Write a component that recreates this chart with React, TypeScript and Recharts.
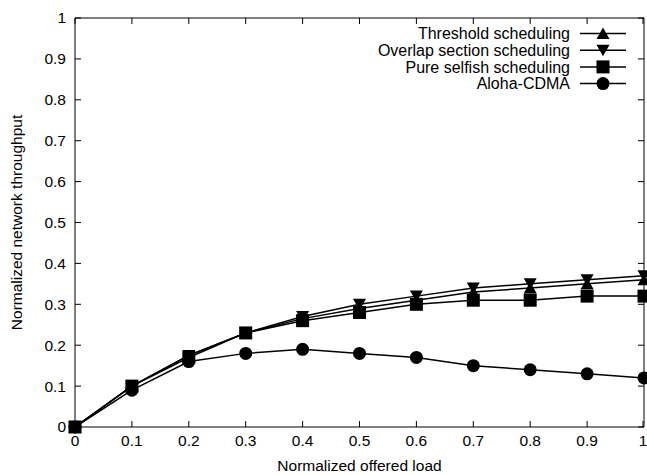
import React from 'react';
import { LineChart, Line, XAxis, YAxis } from 'recharts';

const loads = [0, 0.1, 0.2, 0.3, 0.4, 0.5, 0.6, 0.7, 0.8, 0.9, 1];
const threshold = [0, 0.1, 0.175, 0.23, 0.265, 0.29, 0.31, 0.33, 0.34, 0.35, 0.36];
const overlap = [0, 0.1, 0.175, 0.23, 0.27, 0.3, 0.32, 0.34, 0.35, 0.36, 0.37];
const selfish = [0, 0.1, 0.17, 0.23, 0.26, 0.28, 0.3, 0.31, 0.31, 0.32, 0.32];
const aloha = [0, 0.09, 0.16, 0.18, 0.19, 0.18, 0.17, 0.15, 0.14, 0.13, 0.12];
const ticks = [0, 0.1, 0.2, 0.3, 0.4, 0.5, 0.6, 0.7, 0.8, 0.9, 1];

const data = loads.map((x, i) => ({
  x,
  threshold: threshold[i],
  overlap: overlap[i],
  selfish: selfish[i],
  aloha: aloha[i],
}));

const FONT = '"Liberation Sans", Arial, sans-serif';
const FS = 15.5;
const TM = 7;
const TICK = 6;

type Shape = 'up' | 'down' | 'square' | 'circle';

function Marker({ cx, cy, shape }: { cx: number; cy: number; shape: Shape }) {
  if (cx == null || cy == null) return null;
  if (shape === 'circle') return <circle cx={cx} cy={cy} r={6.5} fill="#000" />;
  if (shape === 'square') return <rect x={cx - 6.5} y={cy - 6.5} width={13} height={13} fill="#000" />;
  if (shape === 'up')
    return <polygon points={`${cx - 6.5},${cy + 5.5} ${cx + 6.5},${cy + 5.5} ${cx},${cy - 6}`} fill="#000" />;
  return <polygon points={`${cx - 6.5},${cy - 5.5} ${cx + 6.5},${cy - 5.5} ${cx},${cy + 6}`} fill="#000" />;
}

const dot = (shape: Shape) => (p: any) => <Marker key={`${shape}-${p.index}`} cx={p.cx} cy={p.cy} shape={shape} />;

const fmt = (v: number) => `${Math.round(v * 10) / 10}`;

const BottomTick = ({ x, y, payload }: any) => (
  <g>
    <line x1={x} y1={y - TM} x2={x} y2={y - TM - TICK} stroke="#000" />
    <text x={x} y={y} dy="0.8em" textAnchor="middle" fontSize={FS} fontFamily={FONT} fill="#000">
      {fmt(payload.value)}
    </text>
  </g>
);

const TopTick = ({ x, y }: any) => (
  <line x1={x} y1={y + TM} x2={x} y2={y + TM + TICK} stroke="#000" />
);

const LeftTick = ({ x, y, payload }: any) => (
  <g>
    <line x1={x + TM} y1={y} x2={x + TM + TICK} y2={y} stroke="#000" />
    <text x={x - 2} y={y} dy="0.35em" textAnchor="end" fontSize={FS} fontFamily={FONT} fill="#000">
      {fmt(payload.value)}
    </text>
  </g>
);

const RightTick = ({ x, y }: any) => (
  <line x1={x - TM} y1={y} x2={x - TM - TICK} y2={y} stroke="#000" />
);

const legendItems: { name: string; shape: Shape }[] = [
  { name: 'Threshold scheduling', shape: 'up' },
  { name: 'Overlap section scheduling', shape: 'down' },
  { name: 'Pure selfish scheduling', shape: 'square' },
  { name: 'Aloha-CDMA', shape: 'circle' },
];

const LegendBox = () => (
  <svg width={647} height={475} style={{ position: 'absolute', left: 0, top: 0, pointerEvents: 'none' }}>
    {legendItems.map((it, i) => {
      const y = 33.5 + i * 16.7;
      return (
        <g key={it.name}>
          <text x={570} y={y} dy="0.36em" textAnchor="end" fontSize={16} fontFamily={FONT} fill="#000">
            {it.name}
          </text>
          <line x1={580} y1={y} x2={626} y2={y} stroke="#000" strokeWidth={1.5} />
          <Marker cx={603} cy={y} shape={it.shape} />
        </g>
      );
    })}
  </svg>
);

export default function App() {
  return (
    <div style={{ position: 'absolute', left: 0, top: 0, width: 647, height: 475, background: '#fff' }}>
      <LineChart width={647} height={475} data={data} margin={{ top: 17, right: 2, bottom: 0, left: 0 }}>
        <XAxis
          dataKey="x"
          type="number"
          domain={[0, 1]}
          ticks={ticks}
          tickSize={0}
          tickMargin={TM}
          tick={<BottomTick />}
          axisLine={{ stroke: '#000' }}
          height={48}
          label={{ value: 'Normalized offered load', position: 'insideBottom', offset: 4, fontSize: FS, fontFamily: FONT, fill: '#000' }}
        />
        <XAxis
          xAxisId="top"
          orientation="top"
          dataKey="x"
          type="number"
          domain={[0, 1]}
          ticks={ticks}
          tickSize={0}
          tickMargin={TM}
          tick={<TopTick />}
          axisLine={{ stroke: '#000' }}
          height={1}
        />
        <YAxis
          type="number"
          domain={[0, 1]}
          ticks={ticks}
          tickSize={0}
          tickMargin={TM}
          tick={<LeftTick />}
          axisLine={{ stroke: '#000' }}
          width={75}
          label={{ value: 'Normalized network throughput', angle: -90, position: 'insideLeft', offset: 16, fontSize: FS, fontFamily: FONT, fill: '#000', style: { textAnchor: 'middle' } }}
        />
        <YAxis
          yAxisId="right"
          orientation="right"
          type="number"
          domain={[0, 1]}
          ticks={ticks}
          tickSize={0}
          tickMargin={TM}
          tick={<RightTick />}
          axisLine={{ stroke: '#000' }}
          width={1}
        />
        <Line dataKey="threshold" stroke="#000" strokeWidth={1.5} dot={dot('up')} isAnimationActive={false} />
        <Line dataKey="overlap" stroke="#000" strokeWidth={1.5} dot={dot('down')} isAnimationActive={false} />
        <Line dataKey="selfish" stroke="#000" strokeWidth={1.5} dot={dot('square')} isAnimationActive={false} />
        <Line dataKey="aloha" xAxisId="top" yAxisId="right" stroke="#000" strokeWidth={1.5} dot={dot('circle')} isAnimationActive={false} />
      </LineChart>
      <LegendBox />
    </div>
  );
}
